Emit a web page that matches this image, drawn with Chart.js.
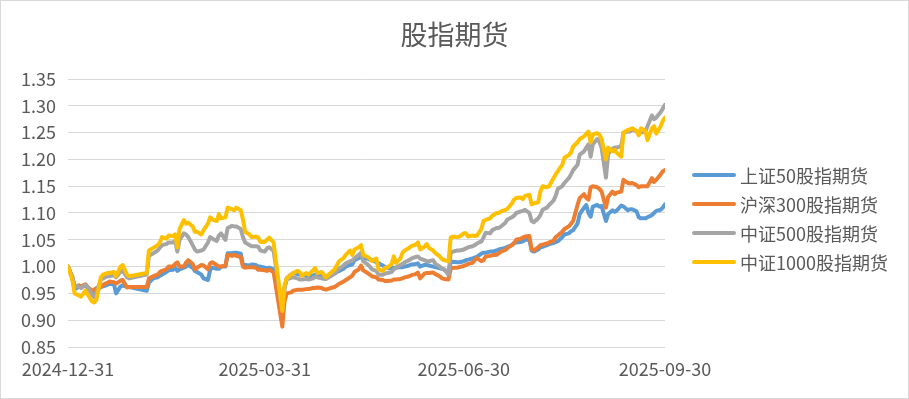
<!DOCTYPE html>
<html>
<head>
<meta charset="utf-8">
<script src="https://cdn.jsdelivr.net/npm/chart.js@4.4.1/dist/chart.umd.min.js"></script>
<style>
  html, body { margin: 0; padding: 0; background: #fff; }
  #wrap { position: relative; width: 909px; height: 399px; font-family: 'Noto Sans CJK SC', sans-serif; color: #595959; }
  #frame { position: absolute; left: 0; top: 0; width: 909px; height: 399px; box-sizing: border-box; border: 1px solid #d9d9d9; pointer-events: none; }
  #title { position: absolute; left: 0; top: 15px; width: 909px; text-align: center; font-size: 27px; line-height: 38px; }
  .lg { position: absolute; left: 692px; height: 24px; font-size: 18px; line-height: 24px; white-space: nowrap; }
  .lg i { position: absolute; left: 0; top: 10px; width: 44px; height: 4px; border-radius: 2px; }
  .lg span { position: absolute; left: 48px; top: 0; }
</style>
</head>
<body>
<div id="wrap">
  <canvas id="futuresChart"></canvas>
  <div id="title">股指期货</div>
  <div id="frame"></div>
</div>
<script>
// days since 2024-12-31
const days = [
  0, 2, 3, 5, 6, 8, 9, 11, 12, 13,
  15, 16, 18, 19, 21, 22, 24, 25, 27, 28,
  36, 37, 39, 41, 42, 43, 45, 46, 48, 49,
  50, 51, 53, 54, 55, 57, 58, 59, 61, 62,
  64, 65, 66, 68, 69, 70, 72, 73, 75, 76,
  77, 79, 80, 81, 83, 84, 86, 87, 88, 90,
  91, 92, 94, 98, 99, 100, 102, 103, 105, 106,
  107, 109, 110, 112, 113, 114, 116, 117, 118, 120,
  122, 123, 124, 126, 127, 129, 130, 131, 133, 134,
  135, 137, 138, 139, 141, 142, 144, 145, 146, 148,
  149, 150, 152, 153, 154, 156, 157, 159, 160, 161,
  163, 164, 165, 167, 168, 170, 171, 172, 174, 175,
  176, 178, 179, 181, 182, 183, 185, 186, 187, 189,
  190, 191, 193, 194, 196, 197, 198, 200, 201, 203,
  204, 205, 207, 208, 209, 211, 212, 213, 215, 216,
  217, 219, 220, 222, 223, 224, 226, 227, 229, 230,
  231, 233, 234, 236, 237, 238, 239, 240, 242, 243,
  244, 246, 247, 249, 250, 251, 253, 254, 256, 257,
  258, 260, 261, 262, 264, 265, 267, 268, 269, 271,
  272, 273
];

const sz50 = [
  1.000, 0.978, 0.958, 0.962, 0.963, 0.966, 0.960, 0.950, 0.950, 0.955,
  0.962, 0.963, 0.966, 0.968, 0.967, 0.950, 0.963, 0.965, 0.962, 0.962,
  0.955, 0.970, 0.978, 0.980, 0.983, 0.985, 0.990, 0.993, 0.994, 0.998,
  0.992, 0.995, 0.998, 1.000, 1.003, 0.998, 0.992, 0.990, 0.985, 0.978,
  0.975, 0.994, 0.998, 0.996, 0.996, 1.000, 1.000, 1.025, 1.025, 1.026,
  1.026, 1.024, 1.003, 1.003, 1.002, 1.004, 1.003, 1.000, 1.000, 0.998,
  0.997, 0.998, 0.995, 0.918, 0.960, 0.978, 0.985, 0.988, 0.986, 0.985,
  0.985, 0.984, 0.982, 0.983, 0.985, 0.986, 0.985, 0.983, 0.981, 0.983,
  0.987, 0.990, 0.992, 0.996, 1.000, 1.003, 1.004, 1.012, 1.016, 1.018,
  1.015, 1.015, 1.013, 1.012, 1.008, 1.006, 1.002, 0.999, 0.998, 0.997,
  0.998, 0.998, 0.999, 0.999, 1.000, 1.002, 1.004, 1.005, 1.006, 1.000,
  1.003, 1.003, 1.002, 1.000, 0.999, 0.997, 0.996, 0.994, 0.990, 1.008,
  1.009, 1.008, 1.008, 1.010, 1.012, 1.013, 1.015, 1.017, 1.018, 1.024,
  1.026, 1.026, 1.028, 1.028, 1.030, 1.032, 1.033, 1.035, 1.037, 1.040,
  1.044, 1.045, 1.046, 1.047, 1.050, 1.050, 1.030, 1.028, 1.032, 1.036,
  1.037, 1.040, 1.042, 1.044, 1.046, 1.047, 1.055, 1.060, 1.062, 1.066,
  1.068, 1.080, 1.098, 1.110, 1.115, 1.100, 1.093, 1.112, 1.115, 1.112,
  1.113, 1.085, 1.098, 1.105, 1.102, 1.105, 1.114, 1.112, 1.105, 1.107,
  1.107, 1.103, 1.092, 1.090, 1.090, 1.092, 1.096, 1.100, 1.104, 1.106,
  1.110, 1.116
];

const hs300 = [
  1.000, 0.980, 0.962, 0.965, 0.963, 0.967, 0.962, 0.955, 0.957, 0.960,
  0.962, 0.966, 0.970, 0.972, 0.971, 0.968, 0.974, 0.975, 0.961, 0.962,
  0.962, 0.978, 0.982, 0.985, 0.990, 0.992, 0.995, 1.000, 1.000, 1.005,
  1.008, 1.000, 1.000, 1.008, 1.012, 1.005, 0.995, 0.998, 1.003, 1.002,
  0.995, 1.006, 1.008, 1.003, 1.000, 1.000, 1.002, 1.022, 1.020, 1.022,
  1.020, 1.018, 1.000, 0.998, 0.999, 0.999, 0.998, 0.994, 0.994, 0.993,
  0.992, 0.994, 0.990, 0.888, 0.935, 0.950, 0.952, 0.955, 0.957, 0.957,
  0.957, 0.958, 0.958, 0.960, 0.960, 0.961, 0.960, 0.958, 0.957, 0.960,
  0.962, 0.965, 0.968, 0.972, 0.975, 0.980, 0.983, 0.990, 0.995, 1.002,
  0.993, 0.988, 0.985, 0.982, 0.980, 0.976, 0.975, 0.973, 0.973, 0.974,
  0.976, 0.976, 0.977, 0.978, 0.980, 0.982, 0.984, 0.986, 0.989, 0.978,
  0.987, 0.988, 0.988, 0.989, 0.986, 0.982, 0.978, 0.977, 0.976, 0.996,
  0.998, 0.998, 0.999, 1.001, 1.003, 1.005, 1.007, 1.012, 1.016, 1.010,
  1.012, 1.019, 1.020, 1.021, 1.022, 1.025, 1.028, 1.031, 1.035, 1.040,
  1.044, 1.050, 1.052, 1.054, 1.056, 1.057, 1.033, 1.030, 1.036, 1.040,
  1.041, 1.043, 1.045, 1.048, 1.055, 1.058, 1.065, 1.070, 1.075, 1.080,
  1.085, 1.115, 1.128, 1.135, 1.128, 1.125, 1.148, 1.150, 1.148, 1.145,
  1.140, 1.110, 1.130, 1.140, 1.135, 1.138, 1.140, 1.162, 1.156, 1.155,
  1.156, 1.152, 1.148, 1.150, 1.150, 1.150, 1.165, 1.158, 1.162, 1.172,
  1.178, 1.180
];

const zz500 = [
  1.000, 0.980, 0.965, 0.962, 0.960, 0.966, 0.962, 0.948, 0.943, 0.952,
  0.975, 0.978, 0.982, 0.982, 0.984, 0.980, 0.990, 0.992, 0.980, 0.978,
  0.985, 1.020, 1.025, 1.030, 1.035, 1.040, 1.042, 1.045, 1.045, 1.048,
  1.028, 1.050, 1.062, 1.060, 1.055, 1.040, 1.032, 1.028, 1.030, 1.032,
  1.045, 1.055, 1.052, 1.048, 1.058, 1.062, 1.050, 1.072, 1.076, 1.075,
  1.075, 1.070, 1.055, 1.045, 1.040, 1.038, 1.038, 1.037, 1.030, 1.028,
  1.034, 1.036, 1.030, 0.918, 0.960, 0.976, 0.979, 0.980, 0.978, 0.976,
  0.976, 0.977, 0.976, 0.978, 0.981, 0.980, 0.978, 0.977, 0.977, 0.982,
  0.987, 0.992, 0.996, 1.002, 1.006, 1.010, 1.011, 1.016, 1.022, 1.026,
  1.010, 1.004, 1.000, 0.995, 0.992, 0.985, 0.985, 0.987, 0.988, 0.990,
  0.995, 0.998, 1.003, 1.005, 1.008, 1.012, 1.015, 1.018, 1.019, 1.015,
  1.012, 1.010, 1.010, 1.012, 1.005, 1.000, 0.996, 0.995, 0.985, 1.026,
  1.028, 1.030, 1.030, 1.032, 1.034, 1.036, 1.038, 1.040, 1.043, 1.047,
  1.054, 1.063, 1.062, 1.068, 1.072, 1.072, 1.075, 1.082, 1.088, 1.092,
  1.095, 1.100, 1.103, 1.104, 1.106, 1.100, 1.085, 1.083, 1.090, 1.096,
  1.106, 1.110, 1.115, 1.123, 1.132, 1.145, 1.150, 1.156, 1.165, 1.172,
  1.180, 1.190, 1.209, 1.215, 1.222, 1.228, 1.205, 1.228, 1.238, 1.233,
  1.222, 1.166, 1.210, 1.220, 1.222, 1.222, 1.225, 1.250, 1.252, 1.252,
  1.256, 1.252, 1.250, 1.250, 1.252, 1.262, 1.282, 1.275, 1.278, 1.288,
  1.295, 1.302
];

const zz1000 = [
  1.000, 0.975, 0.950, 0.946, 0.944, 0.955, 0.948, 0.935, 0.933, 0.938,
  0.980, 0.985, 0.988, 0.988, 0.990, 0.982, 1.000, 1.003, 0.985, 0.982,
  0.988, 1.030, 1.035, 1.040, 1.045, 1.055, 1.052, 1.058, 1.057, 1.060,
  1.036, 1.070, 1.087, 1.080, 1.082, 1.075, 1.065, 1.065, 1.060, 1.068,
  1.080, 1.092, 1.088, 1.085, 1.098, 1.090, 1.092, 1.110, 1.107, 1.105,
  1.110, 1.105, 1.088, 1.065, 1.060, 1.055, 1.056, 1.054, 1.046, 1.046,
  1.050, 1.054, 1.045, 0.917, 0.965, 0.978, 0.985, 0.988, 0.992, 0.990,
  0.983, 0.988, 0.985, 0.993, 0.997, 0.988, 0.990, 0.985, 0.980, 0.988,
  0.995, 1.003, 1.010, 1.016, 1.022, 1.030, 1.022, 1.032, 1.036, 1.040,
  1.022, 1.018, 1.015, 1.010, 1.015, 0.995, 0.992, 0.998, 0.998, 1.005,
  1.019, 1.007, 1.015, 1.026, 1.030, 1.035, 1.038, 1.041, 1.045, 1.032,
  1.037, 1.042, 1.035, 1.030, 1.025, 1.019, 1.014, 1.012, 1.010, 1.054,
  1.056, 1.055, 1.056, 1.062, 1.062, 1.056, 1.058, 1.057, 1.058, 1.070,
  1.085, 1.087, 1.090, 1.095, 1.100, 1.100, 1.103, 1.106, 1.108, 1.118,
  1.125, 1.128, 1.129, 1.126, 1.132, 1.134, 1.116, 1.118, 1.120, 1.140,
  1.150, 1.148, 1.150, 1.165, 1.172, 1.178, 1.190, 1.203, 1.208, 1.213,
  1.224, 1.232, 1.238, 1.243, 1.248, 1.252, 1.232, 1.246, 1.249, 1.246,
  1.238, 1.200, 1.222, 1.215, 1.218, 1.212, 1.205, 1.250, 1.255, 1.256,
  1.258, 1.253, 1.245, 1.258, 1.253, 1.236, 1.258, 1.262, 1.248, 1.262,
  1.272, 1.278
];

const seriesNames = ['上证50股指期货', '沪深300股指期货', '中证500股指期货', '中证1000股指期货'];
const seriesColors = ['#5b9bd5', '#ed7d31', '#a5a5a5', '#ffc000'];
const tickDays = [0, 90, 181, 273];
const tickLabels = ['2024-12-31', '2025-03-31', '2025-06-30', '2025-09-30'];

const allSeries = [sz50, hs300, zz500, zz1000];

function makeDataset(i) {
  return {
    label: seriesNames[i],
    data: days.map((d, k) => ({ x: d, y: allSeries[i][k] })),
    borderColor: seriesColors[i],
    backgroundColor: seriesColors[i],
    borderWidth: 4,
    pointRadius: 0,
    tension: 0,
    borderJoinStyle: 'round',
    borderCapStyle: 'round',
    order: 4 - i // later series on top, like the original
  };
}

Chart.defaults.font.family = "'Noto Sans CJK SC', sans-serif";
Chart.defaults.font.size = 18;
Chart.defaults.color = '#595959';

const ctx = document.getElementById('futuresChart').getContext('2d');
new Chart(ctx, {
  type: 'line',
  data: { datasets: allSeries.map((s, i) => makeDataset(i)) },
  options: {
    responsive: true,
    maintainAspectRatio: false,
    animation: false,
    layout: { padding: { top: 79, right: 244, bottom: 12, left: 0 } },
    plugins: { legend: { display: false }, tooltip: { enabled: false } },
    scales: {
      x: {
        type: 'linear',
        min: 0,
        max: 273,
        grid: { display: false },
        border: { display: false },
        afterBuildTicks: axis => { axis.ticks = tickDays.map(v => ({ value: v })); },
        afterFit: axis => { axis.height = 40; },
        ticks: {
          padding: 3,
          maxRotation: 0,
          autoSkip: false,
          callback: v => tickLabels[tickDays.indexOf(v)]
        }
      },
      y: {
        min: 0.85,
        max: 1.35,
        grid: { color: '#d9d9d9', lineWidth: 1, drawTicks: false },
        border: { display: false },
        afterFit: axis => { axis.width = 68; },
        ticks: {
          stepSize: 0.05,
          padding: 12,
          callback: v => Number(v).toFixed(2)
        }
      }
    }
  }
});

// legend, in the original's order
const wrap = document.getElementById('wrap');
seriesNames.forEach((name, i) => {
  const item = document.createElement('div');
  item.className = 'lg';
  item.style.top = (163 + i * 29) + 'px';
  item.innerHTML = '<i style="background:' + seriesColors[i] + '"></i><span>' + name + '</span>';
  wrap.appendChild(item);
});
</script>
</body>
</html>
